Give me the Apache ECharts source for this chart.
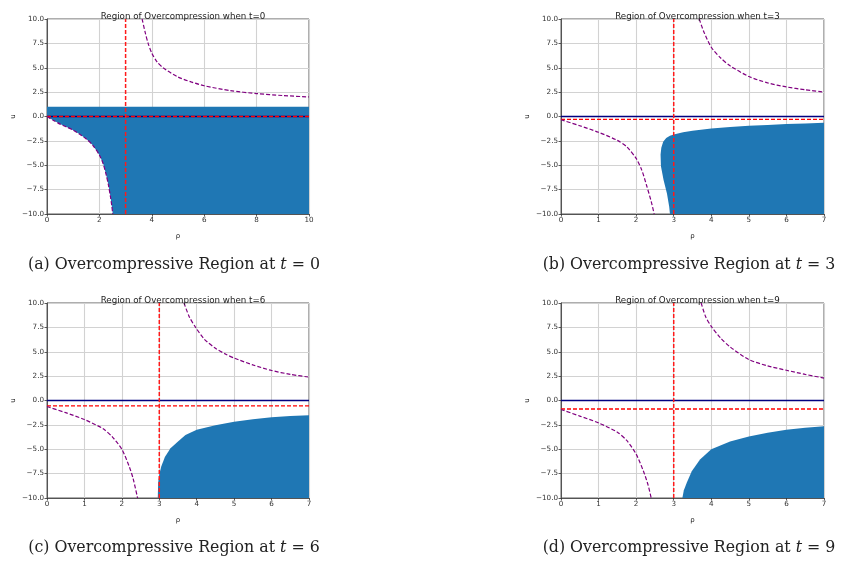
<!DOCTYPE html>
<html>
<head>
<meta charset="utf-8">
<script src="https://cdn.jsdelivr.net/npm/echarts@6/dist/echarts.min.js"></script>
<style>
  html, body { margin: 0; padding: 0; background: #fff; }
  #chart { width: 841px; height: 561px; }
</style>
</head>
<body>
<div id="chart"></div>
<script>
// Time of each snapshot
const times = ['0', '3', '6', '9'];
const panelLetters = ['a', 'b', 'c', 'd'];

// Axis ranges per panel
const rhoMax = [10, 7, 7, 7];
const rhoStep = [2, 1, 1, 1];
const uMin = -10, uMax = 10, uStep = 2.5;

// Sonic line (vertical) and reference level (horizontal) per panel
const sonicRho = 3;
const refLevels = [0, -0.3, -0.55, -0.87];
const zeroLevel = 0;

// Characteristic curves: left branch (below) and right branch (above)
const lowerA = [[0,0],[0.25,-0.4],[0.5,-0.78],[0.75,-1.08],[1,-1.4],[1.25,-1.82],[1.5,-2.3],[1.75,-2.95],[2,-3.95],[2.15,-4.9],[2.27,-6.1],[2.35,-7.1],[2.42,-8.2],[2.47,-9.1],[2.51,-10]];
const upperA = [[3.63,10],[3.75,8.6],[3.86,7.5],[4,6.5],[4.2,5.6],[4.43,5.0],[5,4.05],[5.5,3.55],[6,3.15],[7,2.65],[8,2.35],[9,2.15],[10,2.0]];

const lowerB = [[0,-0.33],[0.5,-0.95],[1,-1.62],[1.5,-2.45],[1.75,-3.1],[2,-4.3],[2.15,-5.5],[2.28,-7.1],[2.4,-8.7],[2.48,-10]];
const upperB = [[3.68,10],[3.8,8.7],[4,7.1],[4.25,6.0],[4.5,5.2],[5,4.1],[5.5,3.45],[6,3.03],[6.5,2.74],[7,2.5]];

const lowerC = [[0,-0.62],[0.5,-1.25],[1,-1.95],[1.5,-2.9],[1.75,-3.75],[2,-5.0],[2.2,-6.8],[2.3,-8.0],[2.42,-10]];
const upperC = [[3.66,10],[3.8,8.6],[3.97,7.5],[4.2,6.3],[4.5,5.35],[4.79,4.72],[5,4.35],[5.5,3.65],[6,3.08],[6.5,2.68],[7,2.4]];

const lowerD = [[0,-0.92],[0.5,-1.6],[1,-2.3],[1.5,-3.25],[1.75,-4.1],[2,-5.5],[2.2,-7.3],[2.32,-8.7],[2.4,-10]];
const upperD = [[3.73,10],[3.85,8.6],[4,7.6],[4.25,6.4],[4.5,5.5],[5,4.2],[5.5,3.55],[6,3.1],[6.5,2.68],[7,2.3]];

// Overcompressive region outlines (closed polygons in (rho, u))
const capA = 1.0;
const regionA = [[0, capA], [10, capA], [10, -10]].concat(lowerA.slice().reverse());
const regionB = [[7,-0.65],[6.5,-0.72],[6,-0.78],[5.5,-0.86],[5,-0.95],[4.5,-1.07],[4,-1.22],[3.5,-1.45],[3.25,-1.62],[3,-1.85],[2.9,-1.98],[2.8,-2.2],[2.72,-2.6],[2.67,-3.2],[2.65,-3.9],[2.66,-5.1],[2.73,-6.5],[2.82,-7.9],[2.88,-9.25],[2.9,-10],[7,-10]];
const regionC = [[7,-1.5],[6.5,-1.6],[6,-1.73],[5.5,-1.93],[5,-2.17],[4.5,-2.55],[4,-3.0],[3.7,-3.55],[3.5,-4.2],[3.3,-4.9],[3.15,-5.8],[3.05,-6.8],[3.0,-7.6],[2.97,-8.4],[2.96,-10],[7,-10]];
const regionD = [[7,-2.65],[6.5,-2.8],[6,-3.0],[5.5,-3.3],[5,-3.68],[4.5,-4.2],[4,-5.0],[3.7,-6.05],[3.48,-7.26],[3.35,-8.4],[3.27,-9.2],[3.23,-10],[7,-10]];

const lowers = [lowerA, lowerB, lowerC, lowerD];
const uppers = [upperA, upperB, upperC, upperD];
const regions = [regionA, regionB, regionC, regionD];

// Plot boxes
const boxes = [
  { left: 47, top: 19, width: 262, height: 195 },
  { left: 561, top: 19, width: 263, height: 195 },
  { left: 47, top: 303, width: 262, height: 195 },
  { left: 561, top: 303, width: 263, height: 195 }
];

const sansFont = 'DejaVu Sans';
const serifFont = 'DejaVu Serif';
const tickColor = '#333';
const fmtTick = v => {
  const s = Math.abs(v) < 1e-9 ? '0.0' : Math.abs(v).toFixed(1);
  return v < -1e-9 ? '\u2212' + s : s;
};

const grids = [], xAxes = [], yAxes = [], series = [], titles = [];

boxes.forEach((b, i) => {
  grids.push(Object.assign({ show: true, borderColor: '#333', borderWidth: 0.8, backgroundColor: '#fff' }, b));

  xAxes.push({
    type: 'value', gridIndex: i, min: 0, max: rhoMax[i], interval: rhoStep[i],
    name: '\u03c1', nameLocation: 'middle', nameGap: 19,
    nameTextStyle: { fontFamily: sansFont, fontSize: 7, color: '#222' },
    axisLine: { show: true, onZero: false, lineStyle: { color: '#333', width: 0.8 } },
    axisTick: { show: true, length: 2.5, lineStyle: { color: '#333', width: 0.8 } },
    axisLabel: { fontFamily: sansFont, fontSize: 7.2, color: tickColor, margin: 3, formatter: v => String(v) },
    splitLine: { show: true, lineStyle: { color: '#d2d2d2', width: 1.1 } }
  });

  yAxes.push({
    type: 'value', gridIndex: i, min: uMin, max: uMax, interval: uStep,
    name: 'u', nameLocation: 'middle', nameGap: 30, nameRotate: 90,
    nameTextStyle: { fontFamily: sansFont, fontSize: 7, color: '#222' },
    axisLine: { show: true, onZero: false, lineStyle: { color: '#333', width: 0.8 } },
    axisTick: { show: true, length: 2.5, lineStyle: { color: '#333', width: 0.8 } },
    axisLabel: { fontFamily: sansFont, fontSize: 7.2, color: tickColor, margin: 3, formatter: fmtTick },
    splitLine: { show: true, lineStyle: { color: '#d2d2d2', width: 1.1 } }
  });

  // Filled overcompressive region
  const poly = regions[i];
  series.push({
    type: 'custom', xAxisIndex: i, yAxisIndex: i, z: 2, clip: true,
    data: poly,
    renderItem: (params, api) => {
      if (params.dataIndex !== 0) return null;
      const pts = poly.map(p => api.coord(p));
      return { type: 'polygon', shape: { points: pts }, style: { fill: '#1f77b4', stroke: null } };
    }
  });

  // u = 0 line
  series.push({
    type: 'line', xAxisIndex: i, yAxisIndex: i, z: 3, showSymbol: false, silent: true,
    data: [[0, zeroLevel], [rhoMax[i], zeroLevel]],
    lineStyle: { color: '#000080', width: 1.3 }
  });

  // reference level and sonic line
  series.push({
    type: 'line', xAxisIndex: i, yAxisIndex: i, z: 4, showSymbol: false, silent: true,
    data: [[0, refLevels[i]], [rhoMax[i], refLevels[i]]],
    lineStyle: { color: '#ff0000', width: 1.3, type: [4, 2] }
  });
  series.push({
    type: 'line', xAxisIndex: i, yAxisIndex: i, z: 4, showSymbol: false, silent: true,
    data: [[sonicRho, uMin], [sonicRho, uMax]],
    lineStyle: { color: '#ff1a1a', width: 1.5, type: [4, 2] }
  });

  // characteristic curves
  [lowers[i], uppers[i]].forEach(curve => {
    series.push({
      type: 'line', xAxisIndex: i, yAxisIndex: i, z: 5, showSymbol: false, silent: true,
      data: curve, smooth: 0.25,
      lineStyle: { color: '#800080', width: 1.2, type: [4, 2] }
    });
  });

  // subplot title
  titles.push({
    text: 'Region of Overcompression when t=' + times[i],
    left: b.left + b.width / 2, top: b.top - 12, textAlign: 'center',
    textStyle: { fontFamily: sansFont, fontSize: 8.7, fontWeight: 'normal', color: '#222' }
  });
});

// captions below each panel
const captionCenters = [
  { x: 169, y: 252 },
  { x: 684, y: 252 },
  { x: 169, y: 535 },
  { x: 684, y: 535 }
];
captionCenters.forEach((c, i) => {
  titles.push({
    text: '(' + panelLetters[i] + ') Overcompressive Region at {i|t} = ' + times[i],
    left: c.x, top: c.y, textAlign: 'center',
    textStyle: {
      fontFamily: serifFont, fontSize: 15.8, fontWeight: 'normal', color: '#222',
      rich: { i: { fontFamily: serifFont, fontSize: 15.8, fontStyle: 'italic', color: '#222' } }
    }
  });
});

const chart = echarts.init(document.getElementById('chart'), null, { renderer: 'canvas' });
chart.setOption({
  animation: false,
  backgroundColor: '#fff',
  title: titles,
  grid: grids,
  xAxis: xAxes,
  yAxis: yAxes,
  series: series
});
</script>
</body>
</html>
